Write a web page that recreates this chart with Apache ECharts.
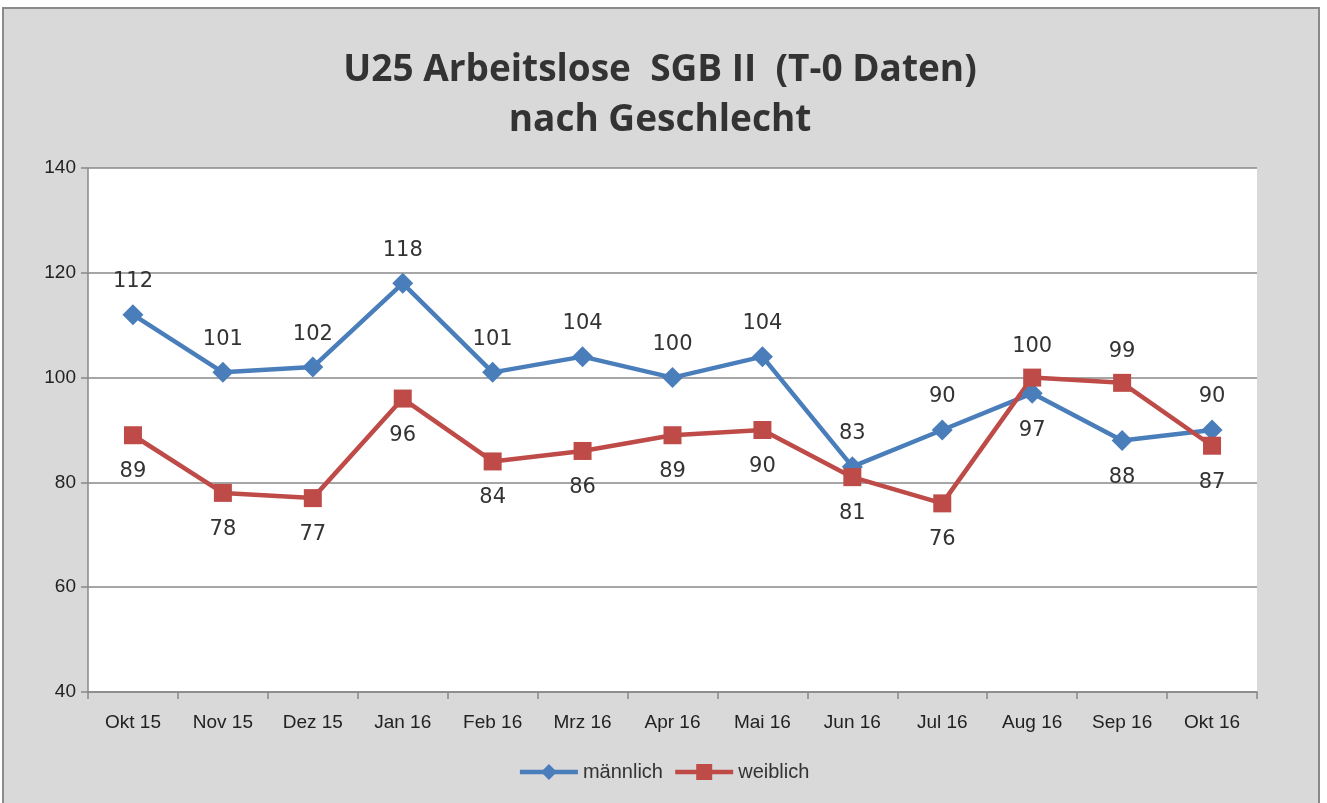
<!DOCTYPE html>
<html><head><meta charset="utf-8">
<script src="https://cdn.jsdelivr.net/npm/echarts@6/dist/echarts.min.js"></script>
<style>html,body{margin:0;padding:0;background:#fff;}#c{width:1327px;height:803px;}</style>
</head><body><div id="c"></div>
<script>
const categories = ['Okt 15','Nov 15','Dez 15','Jan 16','Feb 16','Mrz 16','Apr 16','Mai 16','Jun 16','Jul 16','Aug 16','Sep 16','Okt 16'];
const maennlich = [112,101,102,118,101,104,100,104,83,90,97,88,90];
const weiblich = [89,78,77,96,84,86,89,90,81,76,100,99,87];
const yTicks = [40,60,80,100,120,140];

const chart = echarts.init(document.getElementById('c'));
const maleBelow = new Set([10,11]);
const femaleAbove = new Set([10,11]);
const lblStyle = {fontSize:21, color:'#333', fontFamily:'DejaVu Sans'};
function mk(vals, isAbove, distTop, distBottom){
  return vals.map((v,i)=>{const a=isAbove(i); return {value:v, label:{position: a?'top':'bottom', distance:a?distTop:distBottom}};});
}
chart.setOption({
  animation:false,
  graphic:[{type:'rect', z:-10, shape:{x:3,y:8,width:1316,height:800}, style:{fill:'#d9d9d9', stroke:'#8a8a8a', lineWidth:2}}],
  title:{text:'U25 Arbeitslose  SGB II  (T-0 Daten)\nnach Geschlecht', left:655, textAlign:'center', top:40,
    textStyle:{fontSize:37, fontWeight:'bold', color:'#333', fontFamily:'Open Sans', lineHeight:50}},
  legend:{bottom:16, left:'center', itemWidth:58, itemHeight:20, itemGap:10,
    lineStyle:{width:4.5},
    textStyle:{fontSize:20, color:'#333', fontFamily:'Liberation Sans'},
    data:['männlich','weiblich']},
  grid:{left:88, right:70, top:168, bottom:111, show:true, backgroundColor:'#fff', borderWidth:0},
  xAxis:{type:'category', data:categories, boundaryGap:true,
    axisLine:{lineStyle:{color:'#888', width:1.5}},
    axisTick:{show:true, length:7, lineStyle:{color:'#888', width:1.5}},
    axisLabel:{fontSize:19, color:'#222', margin:21, fontFamily:'Liberation Sans', interval:0}},
  yAxis:{type:'value', min:yTicks[0], max:yTicks[yTicks.length-1], interval:20,
    axisLine:{show:true, lineStyle:{color:'#888', width:1.5}},
    axisTick:{show:true, length:7, lineStyle:{color:'#888', width:1.5}},
    splitLine:{lineStyle:{color:'#888', width:1.5}},
    axisLabel:{fontSize:19, color:'#222', margin:12, fontFamily:'Liberation Sans'}},
  series:[
    {name:'männlich', type:'line', data:mk(maennlich, i=>!maleBelow.has(i), 12, 16), symbol:'diamond', symbolSize:21,
      itemStyle:{color:'#4a7ebb'}, lineStyle:{width:4.5, color:'#4a7ebb'},
      label:{show:true, ...lblStyle}},
    {name:'weiblich', type:'line', data:mk(weiblich, i=>femaleAbove.has(i), 12, 17), symbol:'rect', symbolSize:18,
      itemStyle:{color:'#be4b48'}, lineStyle:{width:4.5, color:'#be4b48'},
      label:{show:true, ...lblStyle}}
  ]
});
</script></body></html>
